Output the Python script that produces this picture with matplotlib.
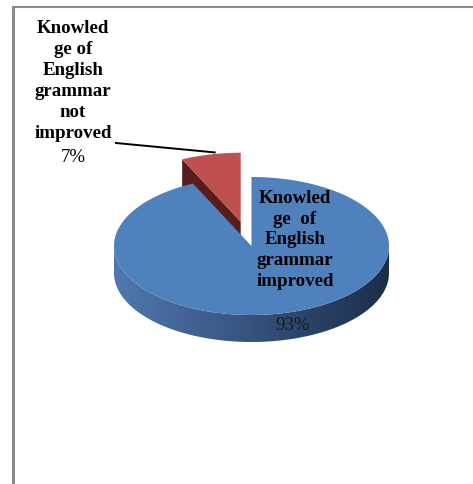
import numpy as np
import matplotlib.pyplot as plt
from matplotlib.patches import Polygon

# slice data (clockwise from 12 o'clock)
names = ['Knowled\nge  of\nEnglish\ngrammar\nimproved',
         'Knowled\nge of\nEnglish\ngrammar\nnot\nimproved']
shares = [93, 7]
explode = [0.0, 0.36]
top_colors = ['#4f81bd', '#c0504d']
wall_left = [(80, 120, 176), (96, 32, 32)]
wall_right = [(28, 45, 74), (70, 22, 22)]

# ellipse geometry in pixel space
cx, cy = 251.5, 246.0
rx, ry = 137.5, 69.0
depth = 27.0


def at(theta, ox, oy, drop=0.0):
    t = np.radians(theta)
    return ox + rx * np.cos(t), oy - ry * np.sin(t) + drop


def shade(c0, c1, x):
    f = np.clip((x - (cx - rx)) / (2 * rx), 0, 1)
    return tuple((a + (b - a) * f) / 255 for a, b in zip(c0, c1))


fig = plt.figure(figsize=(4.73, 4.84), dpi=100)
ax = fig.add_axes([0, 0, 1, 1])
ax.axis('off')

# wedge spans, going clockwise from 90 degrees
spans = []
start = 90.0
for s in shares:
    ext = 360.0 * s / sum(shares)
    spans.append((start - ext, start))
    start -= ext

wedges = []
for i, (t1, t2) in enumerate(spans):
    mid = np.radians((t1 + t2) / 2)
    ox = cx + explode[i] * rx * np.cos(mid)
    oy = cy - explode[i] * ry * np.sin(mid)
    wedges.append((i, t1, t2, ox, oy))

# back slice first, front slice last
for i, t1, t2, ox, oy in [wedges[1], wedges[0]]:
    th = np.linspace(t1, t2, 600)
    # radial walls facing the viewer
    for phi, normal in ((t2, t2 + 90), (t1, t1 - 90)):
        if np.sin(np.radians(normal)) < -1e-6:
            ox2, oy2 = at(phi, ox, oy)
            quad = [(ox, oy), (ox2, oy2), (ox2, oy2 + depth), (ox, oy + depth)]
            ax.add_patch(Polygon(quad, closed=True, fc=shade(wall_left[i], wall_right[i], (ox + ox2) / 2),
                                 ec='none', zorder=1))
    # outer wall on the front half, shaded left to right
    front = th[np.sin(np.radians(th)) <= 0]
    if len(front) > 1:
        upper = [at(t, ox, oy) for t in front]
        lower = [at(t, ox, oy, depth) for t in front[::-1]]
        wall = Polygon(upper + lower, closed=True, fc='none', ec='none')
        ax.add_patch(wall)
        x0 = min(p[0] for p in upper)
        x1 = max(p[0] for p in upper)
        xs = np.linspace(x0, x1, 300)
        grad = np.array([[shade(wall_left[i], wall_right[i], x) for x in xs]] * 2)
        y0 = min(p[1] for p in upper)
        y1 = max(p[1] for p in lower)
        ax.imshow(grad, extent=[x0, x1, y1, y0], aspect='auto', zorder=1,
                  clip_path=wall, interpolation='bilinear')
    # top face
    arc = [at(t, ox, oy) for t in th]
    ax.add_patch(Polygon([(ox, oy)] + arc, closed=True, fc=top_colors[i], ec='none', zorder=2))

serif = 'Liberation Serif'

# label inside the large slice
ax.text(295, 240, names[0], ha='center', va='center', fontsize=13.6, fontweight='bold',
        family=serif, linespacing=1.3, zorder=5)
ax.text(293, 325, f'{shares[0]}%', ha='center', va='center', fontsize=13.6,
        family=serif, color='#1a1a1a', zorder=5)

# label for the small slice, with leader line
ax.text(73, 81, names[1], ha='center', va='center', fontsize=13.6, fontweight='bold',
        family=serif, linespacing=1.3, zorder=5)
ax.text(73, 158, f'{shares[1]}%', ha='center', va='center', fontsize=13.6,
        family=serif, zorder=5)
i, t1, t2, ox, oy = wedges[1]
lx, ly = at((t1 + t2) / 2, ox, oy)
ax.plot([116, lx + 4], [143, ly - 2], color='black', lw=1.4, zorder=4)

# frame edges
ax.plot([12, 473], [6.5, 6.5], color='#8a8a8a', lw=1.5, solid_capstyle='butt')
ax.plot([12.5, 12.5], [6, 484], color='#8a8a8a', lw=2.2, solid_capstyle='butt')

ax.set_xlim(0, 473)
ax.set_ylim(484, 0)
fig.savefig('out.png', dpi=100)
